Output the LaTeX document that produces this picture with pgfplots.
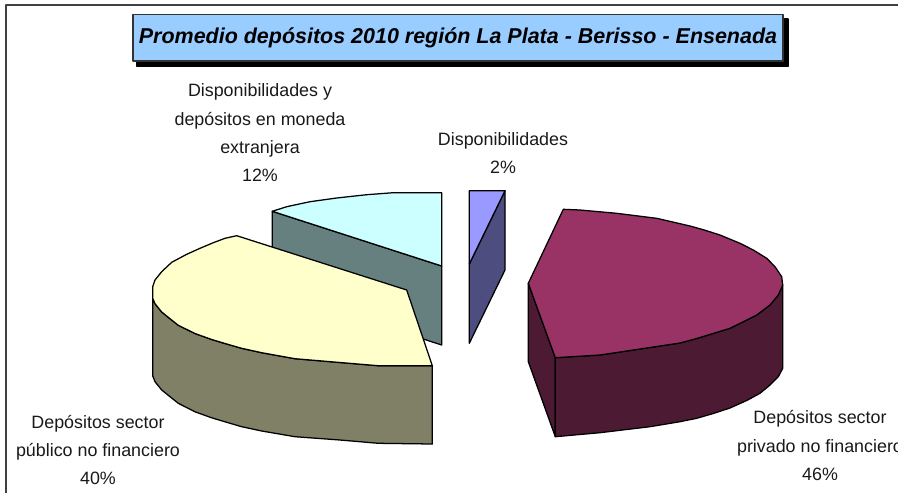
\documentclass[border=0pt]{standalone}
\usepackage{pgfplots}
\pgfplotsset{compat=1.18}
\usepackage{fontspec}
\setmainfont{Liberation Sans}
\definecolor{titlefill}{HTML}{99CCFF}
\definecolor{cyantop}{HTML}{CCFFFF}
\definecolor{cyanside}{HTML}{668080}
\definecolor{yellowtop}{HTML}{FFFFCC}
\definecolor{yellowside}{HTML}{808066}
\definecolor{bluetop}{HTML}{9999FF}
\definecolor{blueside}{HTML}{4D4D80}
\definecolor{redtop}{HTML}{993366}
\definecolor{redside}{HTML}{4D1A33}
\tikzset{lab/.style={font=\fontsize{13.4pt}{16pt}\selectfont, text=black!90, inner sep=0pt, anchor=base}}
\begin{document}
\begin{tikzpicture}
\path[use as bounding box] (0pt,0pt) rectangle (673.5pt,369.75pt);
\begin{axis}[
  scale only axis, width=673.5pt, height=369.75pt,
  at={(0pt,0pt)}, anchor=south west,
  xmin=0, xmax=898, ymin=0, ymax=493, y dir=reverse,
  axis lines=none, ticks=none,
  every axis plot/.append style={line width=0.95pt, line join=round},
]
% frame
\addplot[draw=black!75, line width=1.5pt] coordinates {(6,493) (6,5) (898,5)};
% title box shadow and box
\addplot[fill=black, draw=black] coordinates {(137,19) (788,19) (788,66.5) (137,66.5)} --cycle;
\addplot[fill=titlefill, draw=black!80, line width=0.8pt] coordinates {(133,14.5) (783,14.5) (783,61) (133,61)} --cycle;
% disponibilidades y moneda extranjera: side then top
\addplot[fill=cyanside, draw=black] coordinates {(272.3,211.3) (441.7,266) (441.7,345) (272.3,290)} --cycle;
\addplot[fill=cyantop, draw=black] coordinates {(272.3,211.3) (286.7,206.7) (310,201.7) (336.7,198) (366.7,194.7) (393.3,192.7) (441.7,192.7) (441.7,266)} --cycle;
% publico: side then top
\addplot[fill=yellowside, draw=black] coordinates {(152.7,298.3) (155,303.7) (161.7,312) (170,318.7) (178.3,325.3) (195,333.5) (211.7,339.5) (225,343.5) (241.7,348.3) (261.7,352.7) (295,358.7) (340,362.5) (378.3,365.7) (432.3,365.7) (432.3,444) (378.3,443.3) (340,440) (295,436.7) (261.7,431) (241.7,426.7) (225,421.8) (211.7,417.8) (195,411.8) (178.3,403.3) (170,396.7) (161.7,390) (155,381.7) (153.3,377.3) (152.7,376)} --cycle;
\addplot[fill=yellowtop, draw=black] coordinates {(432.3,365.7) (378.3,365.7) (340,362.5) (295,358.7) (261.7,352.7) (241.7,348.3) (225,343.5) (211.7,339.5) (195,333.5) (178.3,325.3) (170,318.7) (161.7,312) (155,303.7) (152.7,298.3) (152.7,286.7) (155,280) (161.7,271.7) (171.7,262.3) (186.7,254.3) (200,248.3) (213.3,242.7) (225,238.3) (236.7,235.7) (406.7,290)} --cycle;
% disponibilidades
\addplot[fill=blueside, draw=black] coordinates {(505,190.7) (505,270) (469.3,343.3) (469.3,264)} --cycle;
\addplot[fill=bluetop, draw=black] coordinates {(469.3,190.7) (505,190.7) (469.3,264)} --cycle;
% privado: sides then top
\addplot[fill=redside, draw=black] coordinates {(528.3,283.3) (528.3,361.7) (555.3,436.7) (555.3,357.7)} --cycle;
\addplot[fill=redside, draw=black] coordinates {(555.3,357.7) (600,355) (650,347.5) (680,343) (696.7,338.5) (730,328.3) (743.3,321.7) (756.7,315) (770,305) (778.3,295) (782.7,285) (782.7,368.3) (778.3,376.7) (770,385) (760,393.3) (746.7,400.5) (730,408) (713.3,413.5) (696.7,418.3) (680,421.7) (650,426.7) (600,432.7) (555.3,436.7)} --cycle;
\addplot[fill=redtop, draw=black] coordinates {(563.3,209.3) (580,210) (616.7,213.3) (656.7,218.3) (690,226) (703.3,229.7) (720,235) (740,243.3) (753.3,250) (766.7,258.3) (775,266.7) (781.7,276.7) (782.7,285) (778.3,295) (770,305) (756.7,315) (743.3,321.7) (730,328.3) (696.7,338.5) (680,343) (650,347.5) (600,355) (555.3,357.7) (528.3,283.3)} --cycle;
% title
\node[font=\fontsize{16.1pt}{18pt}\selectfont\bfseries\itshape, text=black, inner sep=0pt, anchor=center] at (axis cs:458,38) {Promedio depósitos 2010 región La Plata - Berisso - Ensenada};
% labels
\node[lab] at (axis cs:260,96.5) {Disponibilidades y};
\node[lab] at (axis cs:260,125) {depósitos en moneda};
\node[lab] at (axis cs:260,153) {extranjera};
\node[lab] at (axis cs:260,181.5) {12\%};
\node[lab] at (axis cs:503,145.5) {Disponibilidades};
\node[lab] at (axis cs:503,173.5) {2\%};
\node[lab] at (axis cs:98,428.5) {Depósitos sector};
\node[lab] at (axis cs:98,456.5) {público no financiero};
\node[lab] at (axis cs:98,484.5) {40\%};
\node[lab] at (axis cs:820,423.5) {Depósitos sector};
\node[lab] at (axis cs:820,452.5) {privado no financiero};
\node[lab] at (axis cs:820,480.5) {46\%};
\end{axis}
\end{tikzpicture}
\end{document}
